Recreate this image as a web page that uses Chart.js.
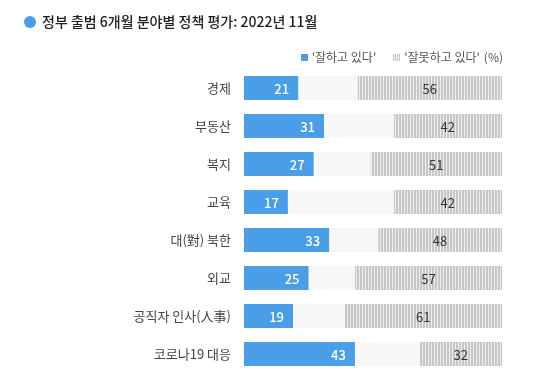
<!DOCTYPE html>
<html><head><meta charset="utf-8">
<script src="https://cdn.jsdelivr.net/npm/chart.js@4"></script>
<style>
html,body{margin:0;padding:0;background:#fff;}
body{width:550px;height:381px;position:relative;overflow:hidden;font-family:"Noto Sans CJK KR","Noto Sans",sans-serif;}
#title{position:absolute;left:24px;top:11px;font-size:14px;color:#222;font-weight:500;white-space:nowrap;line-height:20px;}
#title .dot{display:inline-block;width:12px;height:12px;border-radius:50%;background:#4a9ee8;vertical-align:-1px;margin-right:6px;}
#legend{position:absolute;right:47px;top:48px;font-size:12px;color:#555;white-space:nowrap;line-height:18px;}
#legend .sw{display:inline-block;width:7px;height:7px;margin-right:4px;vertical-align:1px;}
#legend .blue{background:#4a9ee8;}
#legend .hat{background:repeating-linear-gradient(90deg,#c4c4c4 0 1px,#f2f2f2 1px 2px);margin-left:17px;}
#legend .pct{margin-left:4px;}
#wrap{position:absolute;left:0;top:0;width:550px;height:381px;}
</style></head>
<body>
<div id="wrap"><canvas id="c" width="550" height="381"></canvas></div>
<div id="title"><span class="dot"></span>정부 출범 6개월 분야별 정책 평가: 2022년 11월</div>
<div id="legend"><span class="sw blue"></span>'잘하고 있다'<span class="sw hat"></span>'잘못하고 있다'<span class="pct">(%)</span></div>
<script>
const categories = ["경제","부동산","복지","교육","대(對) 북한","외교","공직자 인사(人事)","코로나19 대응"];
const positive = [21,31,27,17,33,25,19,43];
const negative = [56,42,51,42,48,57,61,32];
const neutral = positive.map((p,i)=>100-p-negative[i]);

const pc = document.createElement('canvas');
pc.width = 3; pc.height = 4;
const px = pc.getContext('2d');
px.fillStyle = '#eeeeee'; px.fillRect(0,0,3,4);
px.fillStyle = '#c6c6c6'; px.fillRect(0,0,2,4);
const hatch = document.getElementById('c').getContext('2d').createPattern(pc,'repeat');

const labelPlugin = {
  id:'labels',
  afterDatasetsDraw(chart){
    const ctx = chart.ctx;
    ctx.save();
    ctx.textBaseline = 'middle';
    const m0 = chart.getDatasetMeta(0);
    ctx.font = '500 13px "Noto Sans CJK KR", "Noto Sans", sans-serif';
    ctx.fillStyle = '#ffffff';
    ctx.textAlign = 'right';
    m0.data.forEach((b,i)=>{ ctx.fillText(String(positive[i]), b.x-9, b.y+1); });
    const m2 = chart.getDatasetMeta(2);
    ctx.font = '13px "Noto Sans CJK KR", "Noto Sans", sans-serif';
    ctx.fillStyle = '#333333';
    ctx.textAlign = 'center';
    m2.data.forEach((b,i)=>{ ctx.fillText(String(negative[i]), (b.x+b.base)/2, b.y+1); });
    ctx.restore();
  }
};

new Chart(document.getElementById('c'), {
  type:'bar',
  data:{
    labels: categories,
    datasets:[
      {data: positive, backgroundColor:'#4a9ee8', borderWidth:0},
      {data: neutral, backgroundColor:'#f7f7f7', borderWidth:0},
      {data: negative, backgroundColor: hatch, borderWidth:0}
    ]
  },
  options:{
    indexAxis:'y',
    responsive:false,
    animation:false,
    devicePixelRatio:1,
    layout:{padding:{left:0,right:48,top:69,bottom:8}},
    plugins:{legend:{display:false},tooltip:{enabled:false},title:{display:false}},
    datasets:{bar:{categoryPercentage:1,barPercentage:24/38}},
    scales:{
      x:{stacked:true,min:0,max:100,display:false},
      y:{stacked:true,
         grid:{display:false,drawTicks:false},
         border:{display:false},
         ticks:{padding:13,color:'#444',font:{size:13,family:'"Noto Sans CJK KR", "Noto Sans", sans-serif'}},
         afterFit(s){ s.width = 244; s.paddingTop = 0; s.paddingBottom = 0; }
      }
    }
  },
  plugins:[labelPlugin]
});
</script>
</body></html>
